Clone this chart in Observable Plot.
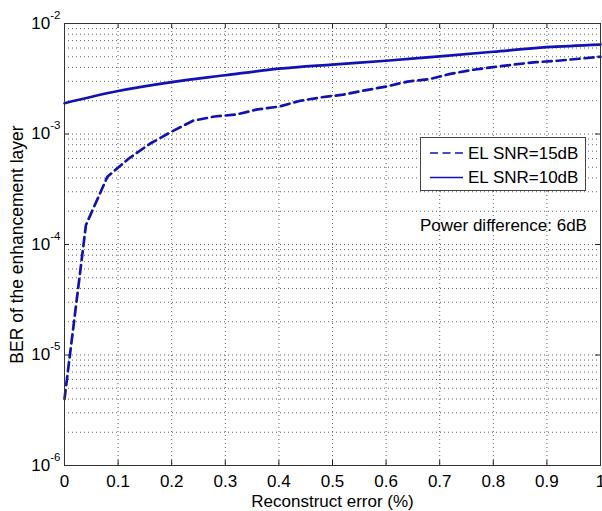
<!DOCTYPE html>
<html><head><meta charset="utf-8">
<script src="https://cdn.jsdelivr.net/npm/d3@7"></script>
<script src="https://cdn.jsdelivr.net/npm/@observablehq/plot@0.6"></script>
<style>
html,body{margin:0;padding:0;background:#fff;}
#wrap{position:relative;width:602px;height:511px;font-family:"Liberation Sans",Arial,sans-serif;}
#overlay{position:absolute;left:0;top:0;pointer-events:none;}
</style></head><body><div id="wrap"></div>
<script>
// ---- data ----
const xs15 = [0, 0.04, 0.08, 0.12, 0.16, 0.2, 0.24, 0.28, 0.32, 0.36, 0.4, 0.44, 0.48, 0.52, 0.56, 0.6, 0.64, 0.68, 0.72, 0.76, 0.8, 0.84, 0.88, 0.92, 0.96, 1];
const ber15 = [4.0e-6, 1.5e-4, 4.1e-4, 6.0e-4, 8.2e-4, 1.05e-3, 1.32e-3, 1.44e-3, 1.5e-3, 1.67e-3, 1.77e-3, 2.0e-3, 2.15e-3, 2.27e-3, 2.48e-3, 2.69e-3, 2.98e-3, 3.13e-3, 3.5e-3, 3.8e-3, 4.03e-3, 4.26e-3, 4.47e-3, 4.6e-3, 4.8e-3, 5.0e-3];
const xs10 = [0, 0.1, 0.2, 0.3, 0.4, 0.5, 0.6, 0.7, 0.8, 0.9, 1];
const ber10 = [1.9e-3, 2.45e-3, 2.95e-3, 3.4e-3, 3.9e-3, 4.25e-3, 4.6e-3, 5.05e-3, 5.55e-3, 6.1e-3, 6.45e-3];
const seriesNames = ["EL SNR=15dB", "EL SNR=10dB"];
const xTicks = [0, 0.1, 0.2, 0.3, 0.4, 0.5, 0.6, 0.7, 0.8, 0.9, 1];
const xTickLabels = ["0", "0.1", "0.2", "0.3", "0.4", "0.5", "0.6", "0.7", "0.8", "0.9", "1"];
const yTicks = [1e-6, 1e-5, 1e-4, 1e-3, 1e-2];
const yTickExponents = ["-6", "-5", "-4", "-3", "-2"];
const xLabel = "Reconstruct error (%)";
const yLabel = "BER of the enhancement layer";
const annotation = "Power difference: 6dB";

// ---- derived ----
const yGrid = [];
yTicks.forEach((d, i) => { if (i < yTicks.length - 1) { for (let k = 1; k <= 9; k++) yGrid.push(k * d); } else yGrid.push(d); });
const s15 = xs15.map((x, i) => ({x, y: ber15[i]}));
const s10 = xs10.map((x, i) => ({x, y: ber10[i]}));

const W = 602, H = 511, mT = 23, mB = 46, mL = 64, mR = 2;
const fw = W - mL - mR, fh = H - mT - mB;
const blue = "#1212b4";
const gridStyle = {stroke: "#444", strokeOpacity: 0.85, strokeDasharray: "1,3", strokeWidth: 1};
const tickLen = 5;

const chart = Plot.plot({
  width: W, height: H,
  marginTop: mT, marginBottom: mB, marginLeft: mL, marginRight: mR,
  style: {fontFamily: "Liberation Sans, Arial, sans-serif", fontSize: "17px", background: "#fff", color: "#000"},
  x: {domain: [0, 1]},
  y: {type: "log", domain: [1e-6, 1e-2]},
  marks: [
    Plot.ruleY(yGrid, {y: d => d, ...gridStyle}),
    Plot.ruleX(xTicks, {x: d => d, ...gridStyle}),
    // inward ticks
    Plot.ruleX(xTicks, {x: d => d, insetTop: fh - tickLen, stroke: "#222"}),
    Plot.ruleX(xTicks, {x: d => d, insetBottom: fh - tickLen, stroke: "#222"}),
    Plot.ruleY(yTicks, {y: d => d, insetRight: fw - tickLen, stroke: "#222"}),
    Plot.ruleY(yTicks, {y: d => d, insetLeft: fw - tickLen, stroke: "#222"}),
    Plot.line(s10, {x: "x", y: "y", stroke: blue, strokeWidth: 2.7, curve: "monotone-x"}),
    Plot.line(s15, {x: "x", y: "y", stroke: blue, strokeWidth: 2.7, strokeDasharray: "9,5"}),
    Plot.frame({stroke: "#333", strokeWidth: 1}),
    Plot.axisX({ticks: xTicks, tickSize: 0, tickPadding: 9, tickFormat: d => xTickLabels[xTicks.indexOf(d)], label: null, fontSize: 17}),
    Plot.axisY({ticks: yTicks, tickSize: 0, tickPadding: 4, tickFormat: d => "10^" + yTickExponents[yTicks.indexOf(d)], label: null, fontSize: 17}),
    Plot.text([xLabel], {frameAnchor: "bottom", textAnchor: "middle", lineAnchor: "middle", dy: 36, fontSize: 17, text: d => d}),
    Plot.text([yLabel], {frameAnchor: "left", textAnchor: "middle", lineAnchor: "middle", dx: -47, rotate: -90, fontSize: 17.5, text: d => d})
  ]
});

// superscript exponents on y tick labels
d3.select(chart).selectAll('g[aria-label="y-axis tick label"] text').each(function() {
  const t = d3.select(this);
  const parts = t.text().split("^");
  if (parts.length === 2) {
    t.text("");
    t.append("tspan").text(parts[0]);
    t.append("tspan").attr("dy", "-10").attr("font-size", "11.5px").text(parts[1]);
  }
});

const wrap = document.getElementById("wrap");
wrap.appendChild(chart);

// legend + annotation overlay
const ov = d3.select(wrap).append("svg").attr("id", "overlay").attr("width", W).attr("height", H)
  .style("font-family", "Liberation Sans, Arial, sans-serif");
const lg = ov.append("g").attr("transform", "translate(420,137)");
lg.append("rect").attr("x", 0.5).attr("y", 0.5).attr("width", 165).attr("height", 53).attr("fill", "#fff").attr("stroke", "#444");
seriesNames.forEach((name, i) => {
  const cy = 16 + i * 24.5;
  lg.append("line").attr("x1", 10).attr("x2", 43).attr("y1", cy).attr("y2", cy)
    .attr("stroke", blue).attr("stroke-width", 1.5).attr("stroke-dasharray", i === 0 ? "8,4.5" : null);
  lg.append("text").attr("x", 48).attr("y", cy).attr("dy", "0.35em").attr("font-size", 17).attr("fill", "#000").text(name);
});
ov.append("text").attr("x", 420).attr("y", 231).attr("font-size", 17).attr("fill", "#000").text(annotation);
</script></body></html>
